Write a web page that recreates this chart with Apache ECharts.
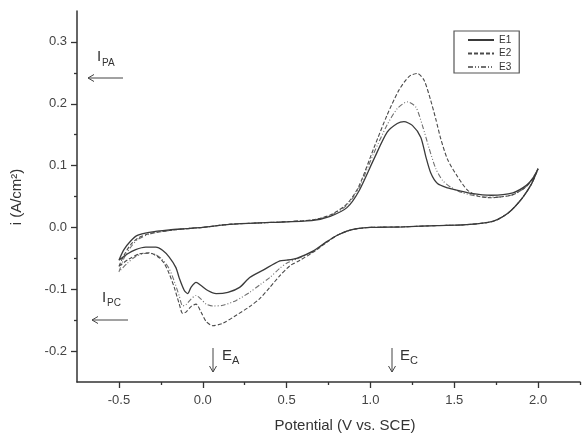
<!DOCTYPE html>
<html>
<head>
<meta charset="utf-8">
<script src="https://cdn.jsdelivr.net/npm/echarts@6/dist/echarts.min.js"></script>
<style>
html,body{margin:0;padding:0;background:#fff;}
#chart{width:584px;height:433px;}
</style>
</head>
<body>
<div id="chart"></div>
<script>
// ---- data (potential in V vs. SCE, current density in A/cm^2) ----
const seriesNames = ['E1', 'E2', 'E3'];

const e1Potential = [-0.50,-0.47,-0.43,-0.39,-0.32,-0.20,-0.10,0.00,0.16,0.40,0.65,0.76,0.86,0.93,1.02,1.10,1.16,1.20,1.25,1.30,1.33,1.36,1.40,1.46,1.52,1.60,1.72,1.85,1.93,1.97,2.00,
  1.96,1.91,1.86,1.82,1.76,1.70,1.55,1.40,1.20,1.00,0.92,0.86,0.80,0.74,0.66,0.56,0.50,0.46,0.36,0.28,0.22,0.15,0.08,0.03,-0.01,-0.04,-0.07,-0.09,-0.11,-0.14,-0.16,-0.20,-0.24,-0.28,-0.34,-0.40,-0.45,-0.50];
const e1Current = [-0.053,-0.036,-0.022,-0.013,-0.008,-0.004,-0.002,0.000,0.005,0.008,0.011,0.018,0.032,0.058,0.110,0.154,0.168,0.171,0.165,0.146,0.115,0.088,0.071,0.064,0.060,0.055,0.052,0.056,0.068,0.080,0.095,
  0.070,0.049,0.033,0.023,0.013,0.008,0.004,0.003,0.001,0.000,-0.002,-0.006,-0.013,-0.023,-0.038,-0.050,-0.053,-0.054,-0.069,-0.081,-0.097,-0.105,-0.107,-0.102,-0.094,-0.089,-0.097,-0.107,-0.102,-0.082,-0.065,-0.048,-0.037,-0.032,-0.032,-0.036,-0.043,-0.053];

const e2Potential = [-0.50,-0.47,-0.43,-0.39,-0.32,-0.20,-0.10,0.00,0.16,0.40,0.65,0.76,0.86,0.93,1.02,1.10,1.17,1.23,1.28,1.32,1.36,1.39,1.42,1.46,1.52,1.58,1.65,1.72,1.85,1.93,1.97,2.00,
  1.96,1.91,1.86,1.82,1.76,1.70,1.55,1.40,1.20,1.00,0.92,0.86,0.80,0.74,0.66,0.58,0.52,0.46,0.40,0.34,0.28,0.20,0.12,0.06,0.02,-0.01,-0.04,-0.07,-0.10,-0.12,-0.14,-0.17,-0.20,-0.23,-0.26,-0.32,-0.38,-0.44,-0.50];
const e2Current = [-0.063,-0.045,-0.028,-0.018,-0.010,-0.005,-0.002,0.000,0.005,0.008,0.012,0.020,0.038,0.066,0.128,0.182,0.222,0.244,0.249,0.238,0.205,0.175,0.143,0.110,0.082,0.060,0.050,0.048,0.053,0.066,0.080,0.095,
  0.070,0.049,0.033,0.023,0.013,0.008,0.004,0.003,0.001,0.000,-0.002,-0.006,-0.013,-0.024,-0.040,-0.053,-0.062,-0.078,-0.097,-0.115,-0.128,-0.142,-0.155,-0.159,-0.152,-0.137,-0.124,-0.128,-0.137,-0.139,-0.124,-0.097,-0.075,-0.058,-0.049,-0.041,-0.043,-0.051,-0.063];

const e3Potential = [-0.50,-0.47,-0.43,-0.39,-0.32,-0.20,-0.10,0.00,0.16,0.40,0.65,0.76,0.86,0.93,1.02,1.10,1.16,1.22,1.27,1.31,1.35,1.39,1.43,1.48,1.55,1.65,1.75,1.85,1.93,1.97,2.00,
  1.96,1.91,1.86,1.82,1.76,1.70,1.55,1.40,1.20,1.00,0.92,0.86,0.80,0.74,0.66,0.56,0.50,0.46,0.40,0.34,0.28,0.20,0.12,0.06,0.02,-0.01,-0.04,-0.07,-0.10,-0.12,-0.14,-0.17,-0.20,-0.24,-0.29,-0.34,-0.40,-0.45,-0.50];
const e3Current = [-0.072,-0.050,-0.032,-0.020,-0.011,-0.005,-0.002,0.000,0.005,0.008,0.012,0.019,0.036,0.063,0.120,0.166,0.192,0.203,0.195,0.165,0.128,0.095,0.076,0.065,0.056,0.050,0.049,0.053,0.066,0.080,0.095,
  0.070,0.049,0.033,0.023,0.013,0.008,0.004,0.003,0.001,0.000,-0.002,-0.006,-0.013,-0.023,-0.039,-0.051,-0.058,-0.066,-0.081,-0.093,-0.105,-0.118,-0.126,-0.127,-0.124,-0.116,-0.110,-0.116,-0.125,-0.127,-0.111,-0.087,-0.067,-0.052,-0.043,-0.042,-0.047,-0.058,-0.072];

const xLabelTicks = [-0.5, 0.0, 0.5, 1.0, 1.5, 2.0];
const xMinorTicks = [-0.25, 0.25, 0.75, 1.25, 1.75, 2.25];
const yLabelTicks = [-0.2, -0.1, 0.0, 0.1, 0.2, 0.3];
const yMinorTicks = [-0.15, -0.05, 0.05, 0.15, 0.25];

// ---- chart ----
const zip = (xs, ys) => xs.map((x, i) => [x, ys[i]]);
const FONT = '"Liberation Sans", Arial, sans-serif';
const axisColor = '#333';
const labelColor = '#444';

const chart = echarts.init(document.getElementById('chart'), null, {renderer: 'canvas'});

const xBase = {type: 'value', min: -0.75, max: 2.25, position: 'bottom', splitLine: {show: false}};
const yBase = {type: 'value', min: -0.25, max: 0.35, position: 'left', splitLine: {show: false}};

const lineCfg = [
  {color: '#3a3a3a', type: 'solid', width: 1.3},
  {color: '#4a4a4a', type: [4, 2], width: 1.1},
  {color: '#707070', type: [5, 2, 1, 2, 1, 2], width: 1.1}
];
const dataSets = [zip(e1Potential, e1Current), zip(e2Potential, e2Current), zip(e3Potential, e3Current)];

const option = {
  animation: false,
  backgroundColor: '#fff',
  textStyle: {fontFamily: FONT},
  grid: {left: 77, right: 4, top: 11, bottom: 51, containLabel: false},
  xAxis: [
    Object.assign({}, xBase, {
      axisLine: {show: true, onZero: false, lineStyle: {color: axisColor, width: 1.5}},
      axisTick: {show: true, customValues: xLabelTicks, length: 6, lineStyle: {color: axisColor, width: 1.3}},
      axisLabel: {customValues: xLabelTicks, formatter: v => v.toFixed(1), margin: 12, fontSize: 13, color: labelColor, fontFamily: FONT}
    }),
    Object.assign({}, xBase, {
      axisLine: {show: false, onZero: false},
      axisTick: {show: true, customValues: xMinorTicks, length: 3, lineStyle: {color: axisColor, width: 1.3}},
      axisLabel: {show: false}
    })
  ],
  yAxis: [
    Object.assign({}, yBase, {
      axisLine: {show: true, onZero: false, lineStyle: {color: axisColor, width: 1.5}},
      axisTick: {show: true, customValues: yLabelTicks, length: 6, lineStyle: {color: axisColor, width: 1.3}},
      axisLabel: {customValues: yLabelTicks, formatter: v => v.toFixed(1), margin: 10, fontSize: 13, color: labelColor, fontFamily: FONT}
    }),
    Object.assign({}, yBase, {
      axisLine: {show: false, onZero: false},
      axisTick: {show: true, customValues: yMinorTicks, length: 3, lineStyle: {color: axisColor, width: 1.3}},
      axisLabel: {show: false}
    })
  ],
  legend: {
    orient: 'vertical',
    left: 454, top: 31,
    itemWidth: 26, itemHeight: 12, itemGap: 3.5,
    padding: [4, 8, 1, 13],
    borderColor: '#555', borderWidth: 1.2,
    itemStyle: {opacity: 0},
    textStyle: {fontSize: 10, color: '#333', fontFamily: FONT},
    data: seriesNames
  },
  series: seriesNames.map((name, i) => ({
    name: name,
    type: 'line',
    xAxisIndex: 0, yAxisIndex: 0,
    data: dataSets[i],
    showSymbol: false,
    symbol: 'none',
    smooth: 0.25,
    lineStyle: lineCfg[i],
    itemStyle: {color: lineCfg[i].color},
    z: 3 - i
  })),
  graphic: [
    // axis titles
    {type: 'text', x: 345, y: 426, style: {text: 'Potential (V vs. SCE)', font: '15px ' + FONT, fill: '#333', textAlign: 'center', textVerticalAlign: 'middle'}},
    {type: 'text', x: 17, y: 197, rotation: Math.PI / 2, style: {text: 'i (A/cm²)', font: '15px ' + FONT, fill: '#333', textAlign: 'center', textVerticalAlign: 'middle'}},
    // I_PA
    {type: 'text', x: 97, y: 49, style: {text: 'I', font: '15px ' + FONT, fill: '#333'}},
    {type: 'text', x: 102, y: 58, style: {text: 'PA', font: '10px ' + FONT, fill: '#333'}},
    {type: 'polyline', shape: {points: [[88, 78], [123, 78]]}, style: {stroke: '#444', lineWidth: 1}},
    {type: 'polyline', shape: {points: [[94, 74.5], [88, 78], [94, 81.5]]}, style: {stroke: '#444', lineWidth: 1, fill: null}},
    // I_PC
    {type: 'text', x: 102, y: 290, style: {text: 'I', font: '15px ' + FONT, fill: '#333'}},
    {type: 'text', x: 107, y: 298, style: {text: 'PC', font: '10px ' + FONT, fill: '#333'}},
    {type: 'polyline', shape: {points: [[92, 320], [128, 320]]}, style: {stroke: '#444', lineWidth: 1}},
    {type: 'polyline', shape: {points: [[98, 316.5], [92, 320], [98, 323.5]]}, style: {stroke: '#444', lineWidth: 1, fill: null}},
    // E_A
    {type: 'polyline', shape: {points: [[213, 348], [213, 372]]}, style: {stroke: '#444', lineWidth: 1}},
    {type: 'polyline', shape: {points: [[209.5, 366], [213, 372], [216.5, 366]]}, style: {stroke: '#444', lineWidth: 1, fill: null}},
    {type: 'text', x: 222, y: 348, style: {text: 'E', font: '15px ' + FONT, fill: '#333'}},
    {type: 'text', x: 232, y: 355, style: {text: 'A', font: '11px ' + FONT, fill: '#333'}},
    // E_C
    {type: 'polyline', shape: {points: [[392, 348], [392, 372]]}, style: {stroke: '#444', lineWidth: 1}},
    {type: 'polyline', shape: {points: [[388.5, 366], [392, 372], [395.5, 366]]}, style: {stroke: '#444', lineWidth: 1, fill: null}},
    {type: 'text', x: 400, y: 348, style: {text: 'E', font: '15px ' + FONT, fill: '#333'}},
    {type: 'text', x: 410, y: 355, style: {text: 'C', font: '11px ' + FONT, fill: '#333'}}
  ]
};
chart.setOption(option);
</script>
</body>
</html>
